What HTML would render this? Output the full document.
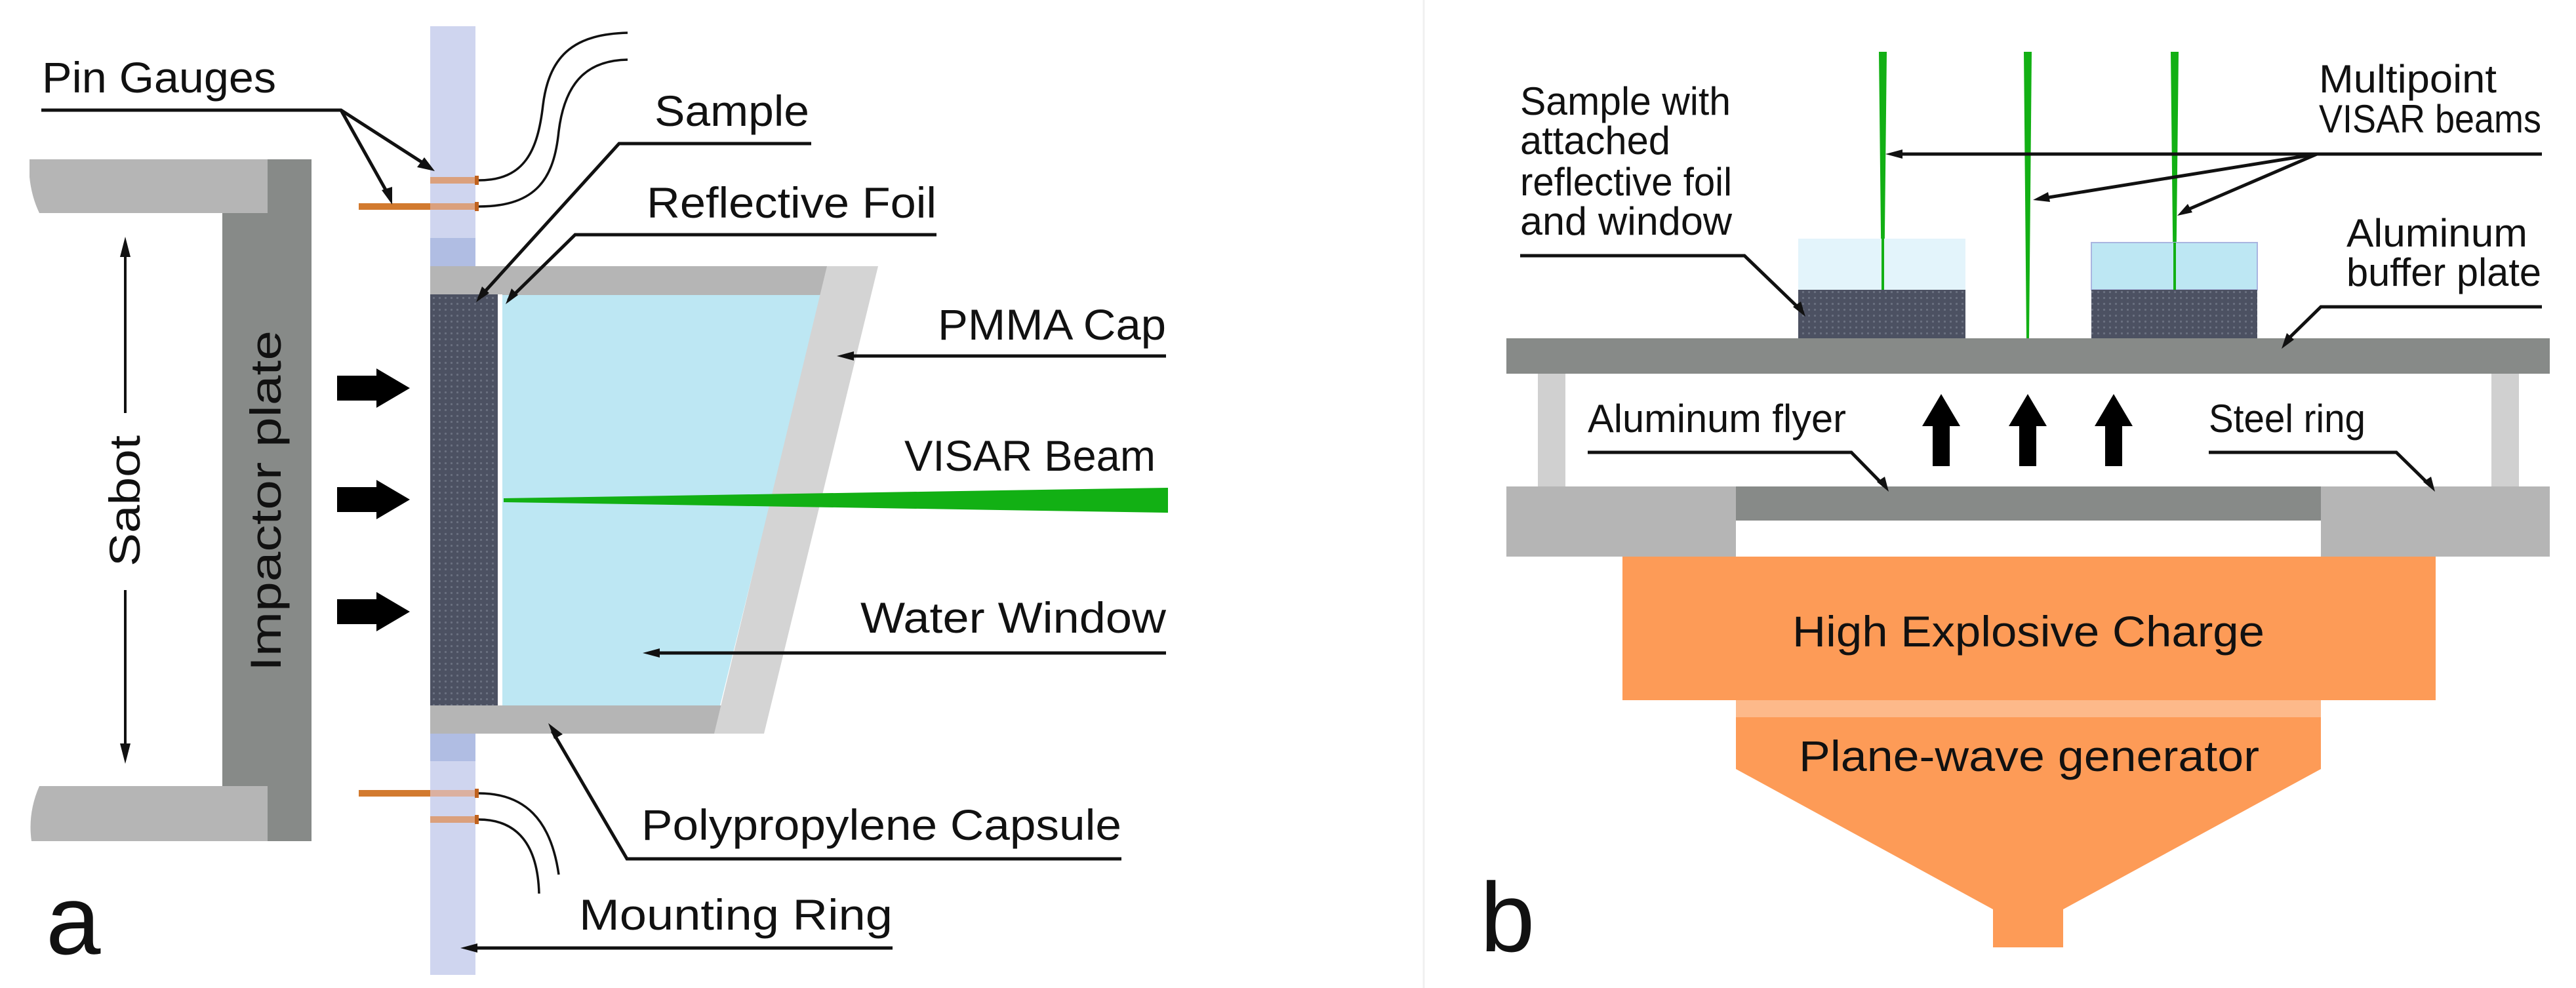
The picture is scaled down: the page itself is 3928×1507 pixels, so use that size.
<!DOCTYPE html>
<html><head><meta charset="utf-8"><style>html,body{margin:0;padding:0;background:#fff}svg{display:block}</style></head>
<body>
<svg width="3928" height="1507" viewBox="0 0 3928 1507" xmlns="http://www.w3.org/2000/svg" font-family="Liberation Sans, sans-serif">
<defs>
<pattern id="dots" width="9" height="9" patternUnits="userSpaceOnUse">
<rect width="9" height="9" fill="#4c5162"/><circle cx="4.5" cy="4.5" r="1.6" fill="#6a7080"/>
</pattern>
<marker id="ah" viewBox="0 0 10 10" refX="10" refY="5" markerWidth="7" markerHeight="5" orient="auto-start-reverse" markerUnits="userSpaceOnUse">
</marker>
</defs>
<rect width="3928" height="1507" fill="#fff"/>
<line x1="2171" y1="0" x2="2171" y2="1507" stroke="#f0f0f0" stroke-width="3"/>

<!-- ===== Panel a ===== -->
<!-- sabot -->
<path d="M45 243 L408 243 L408 325 L60 325 Q48 300 45 270 Z" fill="#b5b5b5"/>
<path d="M45 1199 L408 1199 L408 1283 L48 1283 Q42 1240 60 1199 Z" fill="#b5b5b5"/>
<rect x="339" y="325" width="69" height="874" fill="#878a88"/>
<rect x="408" y="243" width="67" height="1040" fill="#878a88"/>
<text transform="translate(428,764) rotate(-90)" font-size="66" text-anchor="middle" fill="#111" textLength="520" lengthAdjust="spacingAndGlyphs">Impactor plate</text>
<!-- sabot arrow -->
<line x1="191" y1="375" x2="191" y2="630" stroke="#111" stroke-width="4"/>
<line x1="191" y1="900" x2="191" y2="1150" stroke="#111" stroke-width="4"/>
<polygon points="191,361 183,392 199,392" fill="#111"/>
<polygon points="191,1165 183,1134 199,1134" fill="#111"/>
<text transform="translate(213,764) rotate(-90)" font-size="66" text-anchor="middle" fill="#111" textLength="200" lengthAdjust="spacingAndGlyphs">Sabot</text>
<!-- mounting ring bar -->
<rect x="656" y="40" width="69" height="1447" fill="#cfd5ef"/>
<rect x="656" y="363" width="69" height="43" fill="#b0bde3"/>
<rect x="656" y="1119" width="69" height="42" fill="#b0bde3"/>
<!-- pins -->
<rect x="656" y="270" width="71" height="10" fill="#dba07c"/>
<rect x="547" y="310" width="110" height="10" fill="#d27a2f"/>
<rect x="656" y="310" width="71" height="10" fill="#dba07c"/>
<rect x="547" y="1205" width="110" height="10" fill="#d27a2f"/>
<rect x="656" y="1205" width="71" height="10" fill="#dbb0a0"/>
<rect x="656" y="1245" width="71" height="10" fill="#dba07c"/>
<rect x="724" y="268" width="6" height="14" fill="#c0621e"/>
<rect x="724" y="308" width="6" height="14" fill="#c0621e"/>
<rect x="724" y="1203" width="6" height="14" fill="#c0621e"/>
<rect x="724" y="1243" width="6" height="14" fill="#c0621e"/>
<g fill="none" stroke="#111" stroke-width="3.5">
<path d="M730 275 C800 275 820 230 828 160 C838 80 880 52 957 50"/>
<path d="M730 315 C820 315 845 270 852 200 C862 120 900 92 957 91"/>
<path d="M730 1210 C800 1210 840 1250 852 1334"/>
<path d="M730 1250 C790 1250 820 1290 822 1363"/>
</g>
<!-- capsule -->
<rect x="656" y="406" width="610" height="44" fill="#b5b5b5"/>
<rect x="656" y="1076" width="450" height="43" fill="#b5b5b5"/>
<polygon points="766,450 1253,450 1098,1076 766,1076" fill="#bde7f3"/>
<polygon points="1261,406 1339,406 1165,1119 1089,1119" fill="#d4d4d4"/>
<rect x="656" y="449" width="103" height="627" fill="url(#dots)"/>
<rect x="759" y="449" width="7" height="627" fill="#fff"/>
<!-- beam -->
<polygon points="768,760 1781,744 1781,782 768,766" fill="#12b014"/>
<!-- impact arrows -->
<g fill="#000">
<polygon points="514,573 574,573 574,562 625,592 574,622 574,611 514,611"/>
<polygon points="514,743 574,743 574,732 625,762 574,792 574,781 514,781"/>
<polygon points="514,914 574,914 574,903 625,933 574,963 574,952 514,952"/>
</g>
<!-- labels a -->
<g fill="#111" font-size="66">
<text x="64" y="141" textLength="357" lengthAdjust="spacingAndGlyphs">Pin Gauges</text>
<text x="998" y="192" textLength="236" lengthAdjust="spacingAndGlyphs">Sample</text>
<text x="986" y="332" textLength="442" lengthAdjust="spacingAndGlyphs">Reflective Foil</text>
<text x="1430" y="518" textLength="348" lengthAdjust="spacingAndGlyphs">PMMA Cap</text>
<text x="1379" y="718" textLength="383" lengthAdjust="spacingAndGlyphs">VISAR Beam</text>
<text x="1312" y="965" textLength="466" lengthAdjust="spacingAndGlyphs">Water Window</text>
<text x="978" y="1281" textLength="732" lengthAdjust="spacingAndGlyphs">Polypropylene Capsule</text>
<text x="883" y="1418" textLength="478" lengthAdjust="spacingAndGlyphs">Mounting Ring</text>
<text x="70" y="1455" font-size="150">a</text>
</g>
<g fill="none" stroke="#111" stroke-width="5">
<polyline points="63,168 520,168 655,255"/>
<line x1="520" y1="168" x2="595" y2="302"/>
<polyline points="1237,219 944,219 730,455"/>
<polyline points="1428,358 877,358 775,458"/>
<line x1="1778" y1="543" x2="1290" y2="543"/>
<line x1="1778" y1="996" x2="995" y2="996"/>
<polyline points="1710,1310 956,1310 842,1115"/>
<line x1="1361" y1="1446" x2="718" y2="1446"/>
</g>
<g fill="#111">
<polygon points="663,261 636,255 647,240"/>
<polygon points="598,312 582,290 598,285"/>
<polygon points="726,461 735,437 746,447"/>
<polygon points="771,464 780,440 790,450"/>
<polygon points="1276,543 1302,536 1302,550"/>
<polygon points="980,996 1006,989 1006,1003"/>
<polygon points="836,1103 858,1120 845,1127"/>
<polygon points="702,1446 728,1439 728,1453"/>
</g>

<!-- ===== Panel b ===== -->
<!-- beams -->
<g fill="#12b014">
<polygon points="2865,79 2877,79 2873,444 2869,444"/>
<polygon points="3086,79 3098,79 3094,516 3090,516"/>
<polygon points="3310,79 3322,79 3318,444 3314,444"/>
</g>
<!-- samples -->
<rect x="2742" y="364" width="255" height="78" fill="#e3f4fb"/>
<rect x="3189" y="370" width="253" height="72" fill="#bde7f3" stroke="#a9b5e0" stroke-width="2"/>
<g fill="#12b014">
<rect x="2869" y="364" width="4" height="80"/>
<rect x="3314" y="370" width="4" height="74"/>
</g>
<rect x="2742" y="442" width="255" height="74" fill="url(#dots)"/>
<rect x="3189" y="442" width="253" height="74" fill="url(#dots)"/>
<!-- plate and frame -->
<rect x="2297" y="516" width="1591" height="54" fill="#878a88"/>
<rect x="2345" y="570" width="42" height="172" fill="#d0d0d0"/>
<rect x="3799" y="570" width="42" height="172" fill="#d0d0d0"/>
<rect x="2297" y="742" width="350" height="107" fill="#b5b5b5"/>
<rect x="3539" y="742" width="349" height="107" fill="#b5b5b5"/>
<rect x="2647" y="742" width="892" height="52" fill="#878a88"/>
<!-- explosive -->
<rect x="2474" y="849" width="1240" height="219" fill="#fd9b57"/>
<rect x="2647" y="1068" width="892" height="26" fill="#fdb98a"/>
<polygon points="2647,1094 3539,1094 3539,1173 3146,1387 3146,1445 3039,1445 3039,1387 2647,1173" fill="#fd9b57"/>
<!-- up arrows -->
<g fill="#000">
<polygon points="2947,711 2947,650 2931,650 2960,601 2989,650 2973,650 2973,711"/>
<polygon points="3079,711 3079,650 3063,650 3092,601 3121,650 3105,650 3105,711"/>
<polygon points="3210,711 3210,650 3194,650 3223,601 3252,650 3236,650 3236,711"/>
</g>
<!-- labels b -->
<g fill="#111" font-size="60">
<text x="2318" y="175" textLength="321" lengthAdjust="spacingAndGlyphs">Sample with</text>
<text x="2318" y="235" textLength="229" lengthAdjust="spacingAndGlyphs">attached</text>
<text x="2318" y="298" textLength="323" lengthAdjust="spacingAndGlyphs">reflective foil</text>
<text x="2318" y="358" textLength="323" lengthAdjust="spacingAndGlyphs">and window</text>
<text x="3536" y="141" textLength="271" lengthAdjust="spacingAndGlyphs">Multipoint</text>
<text x="3536" y="202" textLength="339" lengthAdjust="spacingAndGlyphs">VISAR beams</text>
<text x="3578" y="376" textLength="276" lengthAdjust="spacingAndGlyphs">Aluminum</text>
<text x="3578" y="436" textLength="297" lengthAdjust="spacingAndGlyphs">buffer plate</text>
<text x="2421" y="659" textLength="394" lengthAdjust="spacingAndGlyphs">Aluminum flyer</text>
<text x="3368" y="659" textLength="239" lengthAdjust="spacingAndGlyphs">Steel ring</text>
</g>
<g fill="#111" font-size="66">
<text x="2733" y="986" textLength="720" lengthAdjust="spacingAndGlyphs">High Explosive Charge</text>
<text x="2743" y="1176" textLength="702" lengthAdjust="spacingAndGlyphs">Plane-wave generator</text>
<text x="2257" y="1451" font-size="150">b</text>
</g>
<g fill="none" stroke="#111" stroke-width="5">
<line x1="3876" y1="235" x2="2890" y2="235"/>
<line x1="3533" y1="235" x2="3118" y2="302"/>
<line x1="3533" y1="235" x2="3333" y2="321"/>
<polyline points="2318,390 2660,390 2745,472"/>
<polyline points="3876,468 3539,468 3486,520"/>
<polyline points="2421,690 2823,690 2872,740"/>
<polyline points="3368,690 3654,690 3705,740"/>
</g>
<g fill="#111">
<polygon points="2875,235 2901,228 2901,242"/>
<polygon points="3100,305 3123,293 3126,308"/>
<polygon points="3320,329 3336,311 3343,324"/>
<polygon points="2753,483 2734,468 2746,460"/>
<polygon points="3479,532 3487,508 3498,518"/>
<polygon points="2880,750 2862,735 2874,727"/>
<polygon points="3713,750 3695,735 3707,727"/>
</g>
</svg>
</body></html>
